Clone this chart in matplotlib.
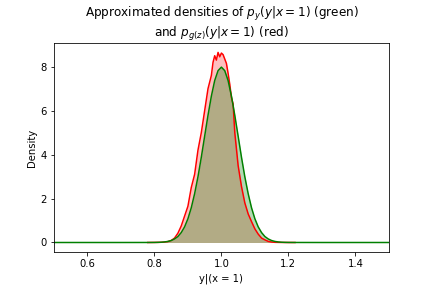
import numpy as np
import matplotlib
matplotlib.use("Agg")
import matplotlib.pyplot as plt

# densities (red = p_g(z), green = p_y)
red_x = [0.78, 0.80, 0.82, 0.83, 0.84, 0.85, 0.86, 0.87, 0.88, 0.89, 0.90, 0.91,
         0.92, 0.93, 0.94, 0.95, 0.96, 0.965, 0.97, 0.975, 0.98, 0.985, 0.99,
         0.995, 1.00, 1.005, 1.01, 1.015, 1.02, 1.025, 1.03, 1.035, 1.04, 1.05,
         1.06, 1.07, 1.08, 1.09, 1.10, 1.11, 1.12, 1.13, 1.14, 1.15, 1.16, 1.18,
         1.20, 1.22]
red_y = [0.0, 0.003, 0.01, 0.02, 0.04, 0.09, 0.2, 0.42, 0.75, 1.2, 1.65, 2.5,
         3.1, 4.2, 5.0, 6.0, 7.0, 7.3, 7.6, 8.2, 8.5, 8.3, 8.65,
         8.45, 8.62, 8.55, 8.35, 8.15, 7.7, 7.2, 6.6, 6.3, 5.0, 3.5,
         2.55, 1.8, 1.3, 0.95, 0.62, 0.38, 0.2, 0.12, 0.05, 0.02, 0.008, 0.002,
         0.0, 0.0]

green_x = [0.5, 0.6, 0.7, 0.78, 0.80, 0.81, 0.82, 0.83, 0.84, 0.85, 0.86, 0.87,
           0.88, 0.89, 0.90, 0.91, 0.92, 0.93, 0.94, 0.95, 0.96, 0.97, 0.98,
           0.99, 1.00, 1.01, 1.02, 1.03, 1.04, 1.05, 1.06, 1.07, 1.08, 1.09,
           1.10, 1.11, 1.12, 1.13, 1.14, 1.15, 1.16, 1.17, 1.18, 1.19, 1.20,
           1.22, 1.3, 1.4, 1.5]
green_y = [0.0, 0.0, 0.0, 0.001, 0.003, 0.006, 0.012, 0.025, 0.048, 0.089, 0.16, 0.27,
           0.45, 0.71, 1.08, 1.58, 2.22, 2.99, 3.88, 4.84, 5.79, 6.66, 7.37,
           7.82, 7.98, 7.82, 7.37, 6.66, 5.79, 4.84, 3.88, 2.99, 2.22, 1.58,
           1.08, 0.71, 0.45, 0.27, 0.16, 0.089, 0.048, 0.025, 0.012, 0.006, 0.003,
           0.001, 0.0, 0.0, 0.0]

red_x = np.array(red_x)
red_y = np.array(red_y)
green_x = np.array(green_x)
green_y = np.array(green_y)
span = (green_x >= red_x.min()) & (green_x <= red_x.max())

fig = plt.figure(figsize=(6, 4), dpi=72)
ax = fig.add_subplot(111)
fig.subplots_adjust(left=0.125, right=0.9, top=0.851, bottom=0.125)

ax.fill_between(red_x, red_y, color="red", alpha=0.25, linewidth=0)
ax.fill_between(green_x[span], green_y[span], color="green", alpha=0.3, linewidth=0)
ax.plot(red_x, red_y, color="red", linewidth=1.5)
ax.plot(green_x, green_y, color="green", linewidth=1.5)

ax.set_xlim(0.5, 1.5)
ax.set_xlabel("y|(x = 1)")
ax.set_ylabel("Density")
ax.set_title("Approximated densities of $p_y(y|x=1)$ (green)\nand $p_{g(z)}(y|x=1)$ (red)")

fig.savefig("out.png", dpi=72)
